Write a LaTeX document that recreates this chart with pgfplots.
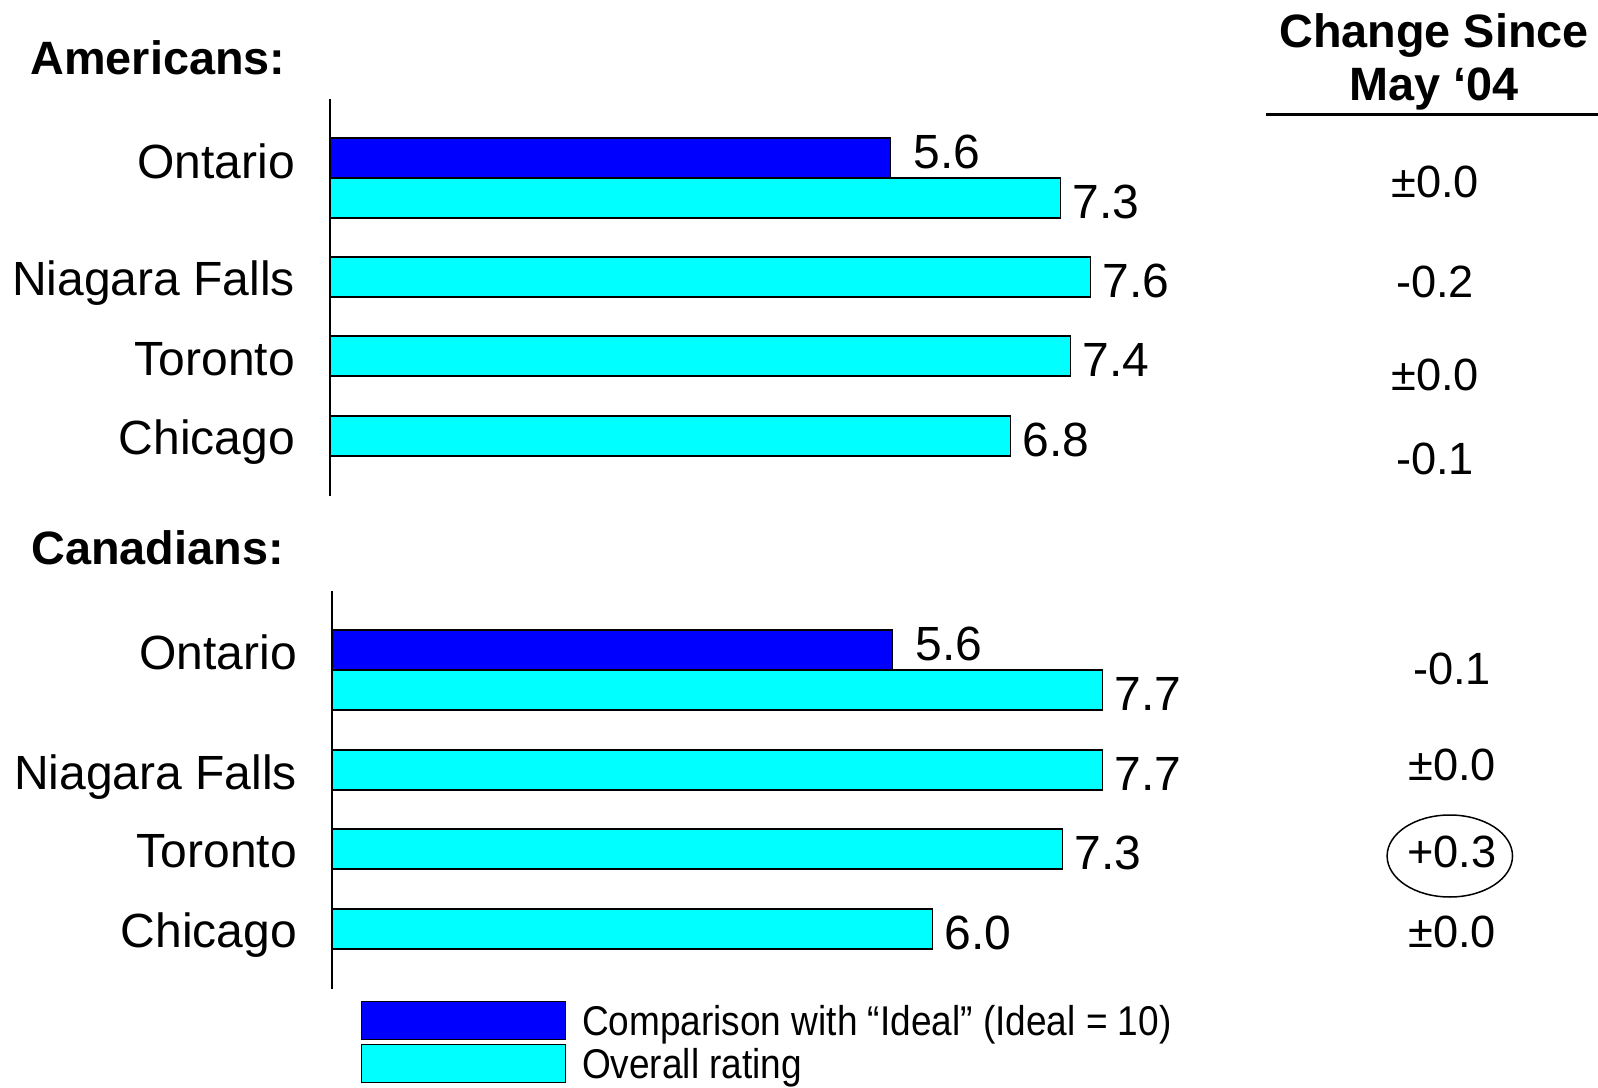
\documentclass[border=0pt]{standalone}
\usepackage{fontspec}
\setmainfont{Liberation Sans}
\newfontfamily\legendfont{Liberation Sans}[FakeStretch=0.89]
\usepackage{pgfplots}
\pgfplotsset{compat=1.18}

\definecolor{idealblue}{RGB}{0,0,255}
\definecolor{ratingcyan}{RGB}{0,255,255}

\newcommand{\lblfont}{\fontsize{24}{28}\selectfont}
\newcommand{\chgfont}{\fontsize{22.6}{27}\selectfont}
\newcommand{\hdrfont}{\bfseries\fontsize{23.4}{28}\selectfont}

\pgfplotsset{
  panel/.style={
    x=50pt, y=0.5pt, xmin=0, xmax=10, enlargelimits=false, clip=false,
    axis x line=none, axis y line=left,
    axis line style={-, line width=1pt, black},
    xbar, bar width=20pt, bar shift=0pt,
    major tick length=0pt,
    yticklabel style={anchor=east, inner sep=0pt, xshift=-17.5pt, font=\lblfont, text height=17.2pt, text depth=0pt},
    /pgf/number format/assume math mode=true,
    nodes near coords={\pgfmathprintnumber[fixed,fixed zerofill,precision=1]{\pgfplotspointmeta}},
    every node near coord/.append style={anchor=west, inner sep=0pt, font=\lblfont, text height=17.2pt, text depth=0pt},
    legend image code/.code={\draw[##1] (0pt,-9.5pt) rectangle (102pt,9.5pt);},
  },
  idealbar/.style={fill=idealblue, draw=black, line width=0.6pt,
    every node near coord/.append style={xshift=11.5pt, yshift=3.3pt}},
  ratingbar/.style={fill=ratingcyan, draw=black, line width=0.6pt,
    every node near coord/.append style={xshift=5.8pt, yshift=-1.7pt}},
}

\begin{document}
\begin{tikzpicture}
\path[use as bounding box] (0pt,0pt) rectangle (799pt,543.5pt);

% ---------------- Americans ----------------
\begin{axis}[panel, at={(165.1pt,295.5pt)}, anchor=south west,
  ymin=591, ymax=988,
  ytick={649.8,728.3,808.8,926}, yticklabels={Chicago,Toronto,Niagara Falls,Ontario}]
\addplot[idealbar] coordinates {(5.6,929)};
\addplot[ratingbar] coordinates {(7.3,889) (7.6,810) (7.4,731) (6.8,651)};
\end{axis}

% ---------------- Canadians ----------------
\begin{axis}[panel, at={(166.1pt,49.25pt)}, anchor=south west,
  ymin=98.5, ymax=496,
  ytick={156.6,237,314.5,434.8}, yticklabels={Chicago,Toronto,Niagara Falls,Ontario},
  legend cell align=left,
  legend style={at={(0,0)}, anchor=north west, xshift=14.3pt, yshift=-6pt,
    draw=none, fill=none, inner sep=0pt, outer sep=0pt, row sep=2pt,
    font=\legendfont\fontsize{20.8}{24}\selectfont,
    nodes={inner sep=0pt, text height=14.9pt, text depth=0pt},
    /tikz/every odd column/.append style={column sep=8pt}}]
\addplot[idealbar] coordinates {(5.6,437)};
\addlegendentry{Comparison with “Ideal” (Ideal = 10)}
\addplot[ratingbar] coordinates {(7.7,397) (7.7,317) (7.3,238) (6.0,158)};
\addlegendentry{Overall rating}
\end{axis}

% ---------------- titles ----------------
\node[anchor=west, inner sep=0pt, font=\hdrfont, text height=16.8pt, text depth=0pt] at (15pt,514.5pt) {Americans:};
\node[anchor=west, inner sep=0pt, font=\hdrfont, text height=16.8pt, text depth=0pt] at (15.5pt,269.5pt) {Canadians:};

% ---------------- change column ----------------
\node[inner sep=0pt, font=\hdrfont, text height=16.8pt, text depth=0pt] at (717pt,528pt) {Change Since};
\node[inner sep=0pt, font=\hdrfont, text height=16.8pt, text depth=0pt] at (717pt,501.5pt) {May ‘04};
\draw[line width=1.5pt] (633pt,486pt) -- (799pt,486pt);

\begin{scope}[every node/.style={inner sep=0pt, font=\chgfont, text height=16.2pt, text depth=0pt}]
\node at (717.5pt,452.8pt) {±0.0};
\node at (717.5pt,402.9pt) {-0.2};
\node at (717.5pt,356.5pt) {±0.0};
\node at (717.5pt,314.2pt) {-0.1};
\node at (726pt,209.3pt) {-0.1};
\node at (726pt,161.4pt) {±0.0};
\node at (726pt,118pt) {+0.3};
\node at (726pt,77.8pt) {±0.0};
\end{scope}
\draw[line width=0.75pt] (724.9pt,115.5pt) ellipse [x radius=31.35pt, y radius=20.5pt];
\end{tikzpicture}
\end{document}
